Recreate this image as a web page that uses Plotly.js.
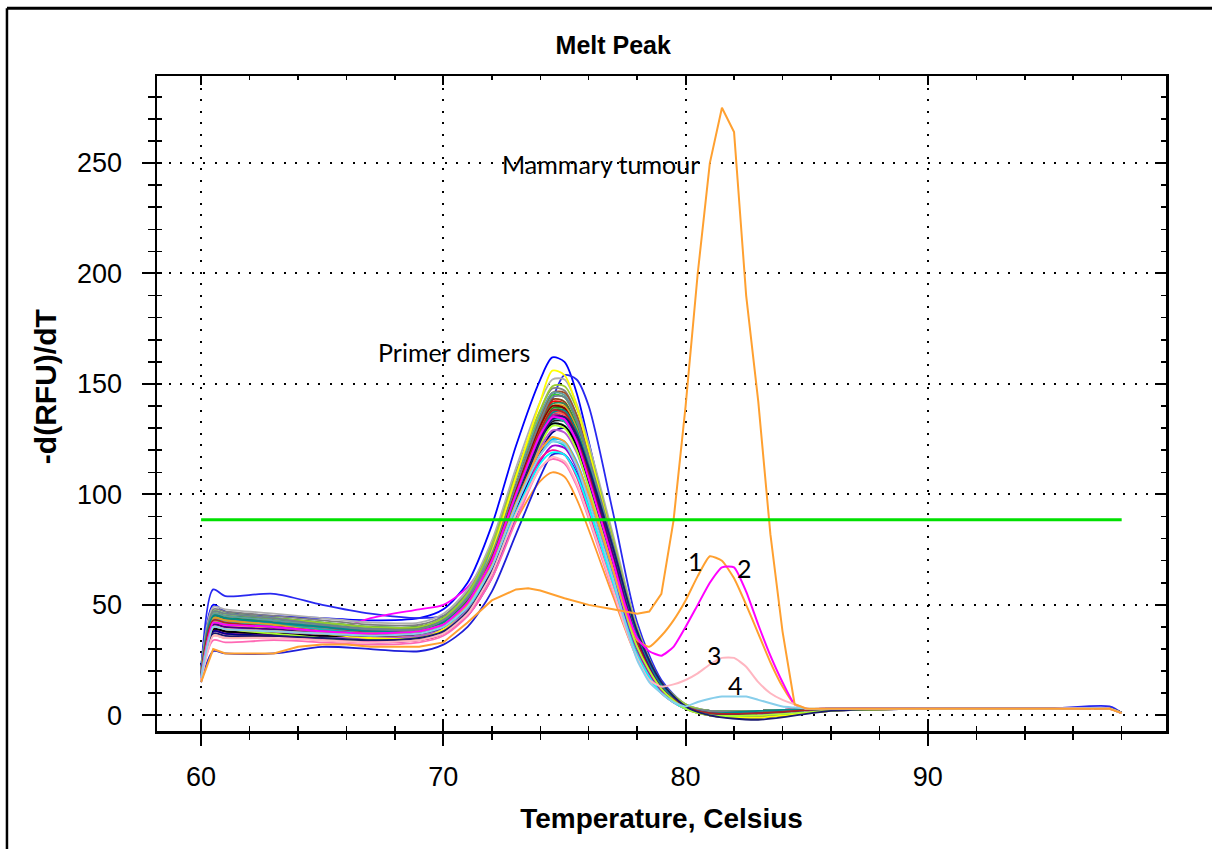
<!DOCTYPE html>
<html>
<head>
<meta charset="utf-8">
<script src="https://cdn.plot.ly/plotly-3.0.1.min.js"></script>
<style>
html,body{margin:0;padding:0;background:#fff;}
#chart{width:1212px;height:849px;}
</style>
</head>
<body>
<div id="chart"></div>
<script>
// Temperature grid (Celsius) for the primer-dimer band curves
const temps = [60, 60.5, 61, 63, 65, 67, 69, 70, 71, 72, 73, 74, 74.5, 75, 75.5, 76, 77, 78, 79, 80, 81, 83, 86, 90, 95, 97.5, 98];

// -d(RFU)/dT for each well (band of primer-dimer curves)
const w01 = [22, 50, 47, 45, 44, 43, 44, 48, 60, 86, 122, 152, 162, 160, 146, 124, 78, 36, 13, 4, 1, 2, 3, 3, 3, 3, 1];
const w02 = [20, 57, 54, 55, 50, 46, 44, 45, 50, 64, 92, 126, 143, 154, 152, 140, 92, 42, 16, 5, 2, 2, 3, 3, 3, 4, 1];
const w03 = [17, 36, 35, 36, 35, 34, 36, 39, 48, 64, 88, 106, 110, 108, 98, 84, 54, 26, 10, 3, 1, 1, 3, 3, 3, 3, 1];
const w04 = [15, 29, 28, 28, 31, 30, 29, 32, 40, 56, 82, 108, 118, 118, 110, 96, 64, 32, 13, 4, 0, 0, 2, 3, 3, 3, 1];
const w05 = [19, 45, 44, 42, 40, 38, 39, 43, 53, 74, 104, 132, 142, 141, 130, 112, 72, 34, 13, 4, 1, 2, 3, 3, 3, 3, 1];
const w06 = [18, 44, 43, 41, 40, 38, 38, 41, 51, 70, 100, 128, 138, 138, 128, 110, 72, 35, 13, 4, 2, 2, 3, 3, 3, 3, 1];
const w07 = [16, 41, 40, 39, 37, 44, 48, 50, 58, 76, 104, 130, 138, 136, 124, 106, 68, 32, 12, 4, 1, 2, 3, 3, 3, 3, 1];
const w08 = [18, 42, 41, 40, 39, 38, 38, 42, 52, 70, 97, 118, 124, 122, 112, 96, 62, 29, 11, 3, 1, 1, 3, 3, 3, 3, 1];
const w09 = [17, 40, 38, 37, 35, 34, 34, 37, 46, 65, 94, 122, 132, 131, 121, 104, 66, 30, 11, 3, 0, -1, 2, 3, 3, 3, 1];
const w10 = [20, 48, 47, 45, 43, 41, 41, 45, 56, 78, 110, 138, 148, 147, 136, 118, 78, 37, 14, 4, 2, 2, 3, 3, 3, 3, 1];
const w11 = [18, 40, 38, 37, 36, 36, 37, 40, 49, 68, 98, 126, 134, 134, 125, 109, 72, 35, 13, 4, 1, 1, 3, 3, 3, 3, 1];
const w12 = [17, 39, 38, 37, 36, 35, 36, 39, 48, 66, 96, 124, 133, 133, 124, 108, 72, 35, 13, 4, 1, 1, 3, 3, 3, 3, 1];
const w13 = [19, 46, 45, 43, 41, 39, 40, 43, 53, 73, 104, 133, 143, 142, 131, 113, 74, 35, 13, 4, 1, 2, 3, 3, 3, 3, 1];
const w14 = [18, 43, 42, 41, 39, 38, 39, 42, 52, 72, 102, 130, 140, 139, 128, 110, 71, 33, 12, 4, 1, 2, 3, 3, 3, 3, 1];
const w15 = [19, 47, 46, 44, 42, 40, 40, 44, 55, 76, 107, 135, 145, 144, 133, 115, 75, 36, 13, 4, 2, 2, 3, 3, 3, 3, 1];
const w16 = [16, 38, 37, 36, 35, 33, 34, 37, 45, 62, 90, 115, 122, 121, 112, 97, 63, 30, 11, 3, 0, 0, 2, 3, 3, 3, 1];
const w17 = [18, 42, 41, 40, 38, 36, 36, 40, 49, 67, 95, 118, 125, 124, 115, 100, 65, 31, 12, 3, 1, 1, 3, 3, 3, 3, 1];
const w18 = [19, 45, 44, 42, 40, 39, 40, 43, 53, 73, 104, 134, 146, 146, 136, 118, 78, 37, 14, 4, 2, 2, 3, 3, 3, 3, 1];
const w19 = [18, 46, 45, 44, 42, 40, 40, 43, 53, 72, 102, 131, 141, 141, 131, 114, 76, 37, 14, 4, 2, 2, 3, 3, 3, 3, 1];
const w20 = [17, 38, 37, 36, 34, 33, 34, 37, 46, 64, 92, 116, 120, 118, 108, 92, 58, 27, 10, 3, 1, 1, 3, 3, 3, 3, 1];
const w21 = [19, 44, 43, 42, 40, 39, 39, 42, 51, 69, 98, 126, 136, 137, 128, 112, 75, 37, 14, 4, 1, 2, 3, 3, 3, 3, 1];
const w22 = [20, 49, 48, 46, 44, 42, 42, 46, 57, 79, 112, 142, 152, 152, 141, 123, 82, 40, 15, 5, 2, 2, 3, 3, 3, 3, 1];
const w23 = [17, 41, 40, 39, 37, 36, 37, 40, 50, 70, 100, 127, 136, 135, 124, 106, 67, 31, 12, 4, 1, 1, 3, 3, 3, 3, 1];
const w24 = [18, 43, 42, 40, 38, 37, 38, 41, 50, 68, 97, 124, 132, 131, 121, 105, 68, 32, 12, 4, 1, 1, 3, 3, 3, 3, 1];
const w25 = [19, 45, 44, 43, 41, 39, 39, 42, 52, 71, 101, 129, 139, 139, 129, 112, 74, 36, 13, 4, 2, 2, 3, 3, 3, 3, 1];
const w26 = [18, 44, 43, 41, 39, 37, 38, 41, 51, 70, 100, 128, 137, 136, 125, 107, 68, 32, 12, 4, 1, 2, 3, 3, 3, 3, 1];
const w27 = [17, 40, 39, 38, 36, 35, 36, 39, 48, 67, 97, 125, 134, 134, 125, 109, 73, 36, 14, 4, 1, 1, 3, 3, 3, 3, 1];
const w28 = [18, 43, 42, 41, 39, 37, 37, 41, 50, 69, 98, 125, 134, 133, 123, 106, 69, 33, 12, 4, 1, 1, 3, 3, 3, 3, 1];
const w29 = [19, 44, 43, 41, 38, 36, 36, 40, 50, 70, 101, 130, 140, 140, 130, 113, 74, 35, 13, 4, 0, -1, 2, 3, 3, 3, 1];
const w30 = [18, 42, 41, 40, 38, 37, 38, 41, 51, 71, 102, 131, 140, 139, 128, 110, 71, 33, 12, 4, 1, 1, 3, 3, 3, 3, 1];
const w31 = [17, 38, 37, 36, 35, 34, 35, 38, 47, 64, 92, 119, 128, 130, 124, 110, 76, 38, 15, 4, 0, -1, 2, 3, 3, 3, 1];
const w32 = [16, 34, 33, 34, 33, 32, 33, 36, 45, 62, 88, 112, 116, 114, 104, 89, 56, 26, 10, 3, 1, 1, 3, 3, 3, 3, 1];
const w33 = [19, 46, 45, 43, 41, 39, 39, 43, 54, 75, 107, 136, 146, 145, 134, 116, 76, 36, 14, 4, 2, 2, 3, 3, 3, 3, 1];
const w34 = [17, 41, 40, 38, 36, 35, 36, 39, 48, 66, 95, 121, 129, 128, 119, 103, 67, 32, 12, 4, 1, 1, 3, 3, 3, 3, 1];
const w35 = [18, 39, 38, 37, 36, 36, 37, 40, 49, 67, 97, 125, 132, 131, 122, 106, 70, 34, 13, 4, 1, 1, 3, 3, 3, 3, 1];
const w36 = [19, 47, 46, 44, 42, 40, 40, 44, 55, 77, 109, 138, 149, 149, 139, 121, 80, 39, 15, 5, 2, 2, 3, 3, 3, 3, 1];
const w37 = [18, 42, 41, 39, 37, 35, 35, 39, 50, 74, 108, 142, 156, 154, 140, 120, 78, 37, 14, 4, 0, -1, 2, 3, 3, 3, 1];
const w38 = [18, 43, 42, 40, 38, 37, 37, 40, 49, 66, 92, 114, 119, 118, 109, 94, 60, 27, 10, 3, 1, 1, 3, 3, 3, 3, 1];
const w39 = [18, 41, 40, 39, 37, 36, 37, 40, 50, 69, 99, 126, 135, 135, 126, 110, 73, 35, 13, 4, 1, 1, 3, 3, 3, 3, 1];
const w40 = [19, 47, 46, 44, 41, 39, 39, 43, 53, 73, 104, 133, 144, 144, 134, 117, 78, 38, 14, 4, 2, 2, 3, 3, 3, 3, 1];
const w41 = [18, 45, 44, 42, 40, 38, 38, 42, 51, 70, 99, 127, 137, 138, 129, 113, 76, 37, 14, 4, 1, 2, 3, 3, 3, 3, 1];
const w42 = [18, 43, 42, 40, 38, 37, 37, 41, 51, 71, 101, 129, 138, 137, 127, 109, 70, 33, 12, 4, 1, 1, 3, 3, 3, 3, 1];
const w43 = [17, 40, 39, 37, 35, 34, 35, 38, 47, 66, 96, 123, 131, 130, 120, 103, 66, 31, 12, 3, 0, 0, 2, 3, 3, 3, 1];
const w44 = [17, 37, 36, 36, 35, 34, 35, 38, 47, 66, 96, 124, 134, 135, 127, 112, 76, 38, 15, 4, 0, -2, 2, 3, 3, 3, 1];

const bandSeries = [w01, w02, w03, w04, w05, w06, w07, w08, w09, w10, w11, w12, w13, w14, w15, w16, w17, w18, w19,
                    w20, w21, w22, w23, w24, w25, w26, w27, w28, w29, w30, w31, w32, w33, w34, w35, w36, w37, w38,
                    w39, w40, w41, w42, w43, w44];
const bandColors = ['#0000FF', '#2828F0', '#FF9A2E', '#1E1ED8', '#FF0000', '#008000', '#FF00FF', '#00CED1', '#E6C800',
                    '#808080', '#000080', '#1A1A1A', '#8B4513', '#DC143C', '#32CD32', '#9400D3', '#00BFFF', '#A0522D',
                    '#2E8B57', '#FF1493', '#4682B4', '#B0B0B0', '#C71585', '#1E90FF', '#228B22', '#FF6347', '#6A5ACD',
                    '#20B2AA', '#DAA520', '#8B0000', '#00008B', '#FF69B4', '#5F9EA0', '#BA55D3', '#000000', '#9ACD32',
                    '#FFFF00', '#00FFFF', '#4B0082', '#708090', '#008B8B', '#B22222', '#ADFF2F', '#191970'];

// Samples with specific product peaks (numbered 1-4)
const tempsPeak = [60, 60.5, 61, 63, 65, 67, 69, 70, 71, 72, 73, 74, 74.5, 75, 75.5, 76, 77, 77.5, 78, 78.5, 79, 79.5,
                   80, 80.5, 81, 81.5, 82, 82.5, 83, 83.5, 84, 84.5, 85, 86, 90, 95, 97.5, 98];
const sample1 = [16, 40, 39, 38, 37, 37, 38, 41, 50, 68, 96, 120, 126, 124, 114, 100, 66, 48, 34, 31, 36, 43,
                 52, 63, 72, 70, 62, 50, 37, 24, 13, 5, 3, 3, 3, 3, 3, 1];
const sample2 = [17, 42, 41, 40, 38, 37, 38, 41, 51, 70, 100, 127, 135, 134, 124, 107, 70, 50, 35, 29, 27, 31,
                 40, 50, 60, 67, 67, 56, 41, 27, 15, 5, 3, 3, 3, 3, 3, 1];
const sample3 = [16, 36, 35, 35, 34, 33, 34, 37, 46, 64, 91, 112, 117, 115, 105, 90, 57, 40, 26, 16, 13, 14,
                 16, 19, 23, 26, 26, 22, 15, 10, 7, 5, 3, 3, 3, 3, 3, 1];
const sample4 = [17, 40, 39, 38, 37, 36, 37, 40, 49, 67, 95, 118, 124, 123, 113, 97, 62, 42, 25, 15, 10, 6,
                 4, 6, 7.5, 8.5, 8.5, 8.5, 7, 5.5, 4, 3.5, 3, 3, 3, 3, 3, 1];
const sampleColors = ['#FFA030', '#FF00FF', '#FFB6C1', '#87CEEB'];

// Mammary tumour sample
const tempsTumour = [60, 60.5, 61, 62, 63, 64, 65, 66, 67, 68, 69, 70, 71, 72, 73, 73.5, 74, 75, 76, 77, 78, 78.5,
                     79, 79.5, 80, 80.5, 81, 81.5, 82, 82.5, 83, 83.5, 84, 84.5, 85, 86, 90, 95, 97.5, 98];
const tumour = [15, 30, 28, 28, 28, 31, 32, 32, 31, 31, 31, 33, 42, 52, 57, 57.5, 56.5, 53, 50, 48, 46, 47,
                55, 88, 140, 200, 250, 275, 264, 190, 142, 82, 38, 5, 3, 3, 3, 3, 3, 1];

// Threshold line
const thresholdT = [60, 98];
const thresholdLevel = 88.5;

// Text labels
const labelTexts = ['Mammary tumour', 'Primer dimers', '1', '2', '3', '4'];
const labelT = [76.5, 70.45, 80.4, 82.45, 81.2, 82.05];
const labelV = [249.5, 164.5, 70, 66.5, 27.5, 13.5];

const traces = [];
bandSeries.forEach(function (s, i) {
  traces.push({x: temps, y: s, type: 'scatter', mode: 'lines',
    line: {color: bandColors[i], width: 1.8, shape: 'spline', smoothing: 0.8},
    hoverinfo: 'skip', showlegend: false});
});
[sample1, sample2, sample3, sample4].forEach(function (s, i) {
  traces.push({x: tempsPeak, y: s, type: 'scatter', mode: 'lines',
    line: {color: sampleColors[i], width: 2, shape: 'spline', smoothing: 0.5},
    hoverinfo: 'skip', showlegend: false});
});
traces.push({x: tempsTumour, y: tumour, type: 'scatter', mode: 'lines',
  line: {color: '#FFA030', width: 2}, hoverinfo: 'skip', showlegend: false});
traces.push({x: thresholdT, y: thresholdT.map(function () { return thresholdLevel; }), type: 'scatter', mode: 'lines',
  line: {color: '#00E000', width: 3}, hoverinfo: 'skip', showlegend: false});
// empty traces so that the mirrored tick axes are drawn
traces.push({x: [], y: [], xaxis: 'x2', yaxis: 'y2', type: 'scatter', showlegend: false, hoverinfo: 'skip'});
traces.push({x: [], y: [], xaxis: 'x3', yaxis: 'y3', type: 'scatter', showlegend: false, hoverinfo: 'skip'});

const XR = [58.18, 99.83];
const YR = [-7.1, 289.4];
const tickFont = {family: 'Liberation Sans, Arial, sans-serif', size: 27, color: '#000'};

const annotations = labelTexts.map(function (t, i) {
  return {x: labelT[i], y: labelV[i], xref: 'x', yref: 'y', text: t, showarrow: false,
    font: {family: 'Lato, Open Sans, sans-serif', size: 25, color: '#000'}, xanchor: 'center', yanchor: 'middle'};
});
// y-axis title (placed as rotated text to match reference position)
annotations.push({x: -0.111, y: 0.525, xref: 'paper', yref: 'paper', text: '-d(RFU)/dT', showarrow: false,
  textangle: -90, xanchor: 'center', yanchor: 'middle',
  font: {family: 'Liberation Sans, Arial, sans-serif', size: 30, weight: 'bold', color: '#000'}});

const layout = {
  width: 1212, height: 849,
  paper_bgcolor: '#fff', plot_bgcolor: '#fff',
  margin: {l: 157, r: 46, t: 76, b: 118, pad: 0},
  title: {text: 'Melt Peak', font: {family: 'Liberation Sans, Arial, sans-serif', size: 25, weight: 'bold', color: '#000'},
          x: 0.506, xref: 'container', xanchor: 'center', y: 0.947, yref: 'container', yanchor: 'middle'},
  showlegend: false,
  xaxis: {range: XR, tick0: 60, dtick: 10, ticks: 'outside', ticklen: 12, tickwidth: 2, tickcolor: '#000',
    minor: {tick0: 60, dtick: 2, ticks: 'outside', ticklen: 6, tickwidth: 1.5, tickcolor: '#000', showgrid: false},
    showline: true, linewidth: 2.5, linecolor: '#000', mirror: true,
    showgrid: true, gridcolor: '#000', gridwidth: 2, griddash: '2px,9.5px', zeroline: false,
    tickfont: tickFont, ticklabelstandoff: 8,
    title: {text: 'Temperature, Celsius', font: {family: 'Liberation Sans, Arial, sans-serif', size: 28, weight: 'bold', color: '#000'}, standoff: 18}},
  yaxis: {range: YR, tick0: 0, dtick: 50, ticks: 'outside', ticklen: 13, tickwidth: 2, tickcolor: '#000',
    minor: {tick0: 0, dtick: 10, ticks: 'outside', ticklen: 7, tickwidth: 1.5, tickcolor: '#000', showgrid: false},
    showline: true, linewidth: 2.5, linecolor: '#000', mirror: true,
    showgrid: true, gridcolor: '#000', gridwidth: 2, griddash: '2px,9.5px', zeroline: false,
    tickfont: tickFont, ticklabelstandoff: 14},
  xaxis2: {range: XR, overlaying: 'x', side: 'top', anchor: 'y2', tick0: 60, dtick: 10, ticks: 'inside', ticklen: 9,
    tickwidth: 2, tickcolor: '#000', showticklabels: false, showgrid: false, zeroline: false, showline: false,
    minor: {tick0: 60, dtick: 2, ticks: 'inside', ticklen: 4, tickwidth: 1.5, tickcolor: '#000', showgrid: false}},
  yaxis2: {range: YR, overlaying: 'y', side: 'right', anchor: 'x2', tick0: 0, dtick: 50, ticks: 'inside', ticklen: 11,
    tickwidth: 2, tickcolor: '#000', showticklabels: false, showgrid: false, zeroline: false, showline: false,
    minor: {tick0: 0, dtick: 10, ticks: 'inside', ticklen: 5, tickwidth: 1.5, tickcolor: '#000', showgrid: false}},
  xaxis3: {range: XR, overlaying: 'x', side: 'bottom', anchor: 'y3', tick0: 60, dtick: 10, ticks: 'inside', ticklen: 12,
    tickwidth: 2, tickcolor: '#000', showticklabels: false, showgrid: false, zeroline: false, showline: false,
    minor: {tick0: 60, dtick: 2, ticks: 'inside', ticklen: 5, tickwidth: 1.5, tickcolor: '#000', showgrid: false}},
  yaxis3: {range: YR, overlaying: 'y', side: 'left', anchor: 'x3', tick0: 0, dtick: 50, ticks: 'inside', ticklen: 5,
    tickwidth: 2, tickcolor: '#000', showticklabels: false, showgrid: false, zeroline: false, showline: false,
    minor: {tick0: 0, dtick: 10, ticks: 'inside', ticklen: 5, tickwidth: 1.5, tickcolor: '#000', showgrid: false}},
  annotations: annotations,
  shapes: [
    {type: 'line', xref: 'paper', yref: 'paper', x0: -0.1487, x1: -0.1487, y0: 1.1034, y1: -0.2, line: {color: '#000', width: 2.5}},
    {type: 'line', xref: 'paper', yref: 'paper', x0: -0.1487, x1: 1.06, y0: 1.1034, y1: 1.1034, line: {color: '#000', width: 3}}
  ]
};

Plotly.newPlot('chart', traces, layout, {staticPlot: true, displayModeBar: false});
</script>
</body>
</html>
